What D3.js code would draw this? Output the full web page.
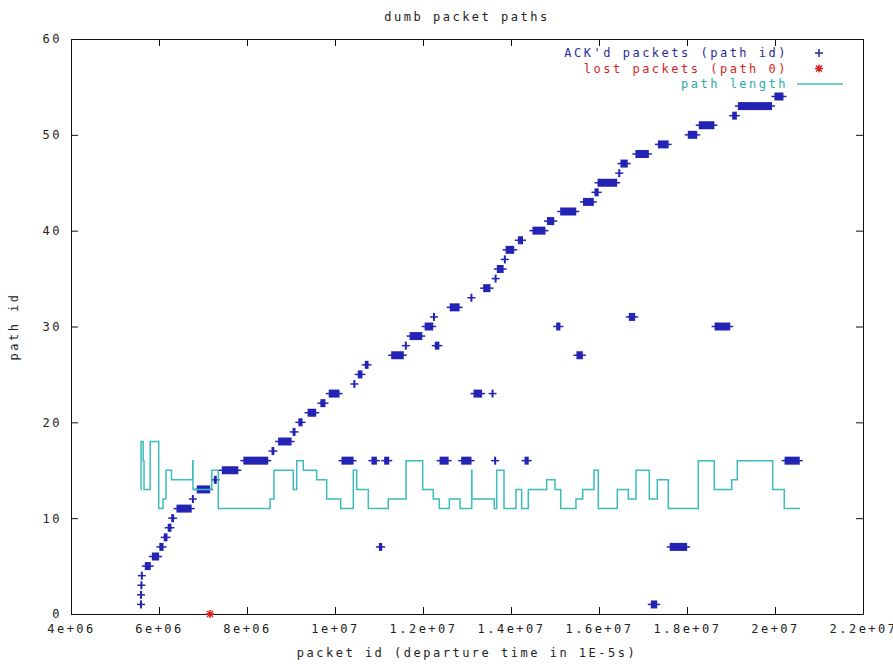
<!DOCTYPE html>
<html>
<head>
<meta charset="utf-8">
<script src="https://cdnjs.cloudflare.com/ajax/libs/d3/7.8.5/d3.min.js"></script>
<style>
  body { margin: 0; background: #fff; }
  text { font-family: "DejaVu Sans Mono", monospace; font-size: 12px; letter-spacing: 2.5px; fill: #222; }
</style>
</head>
<body>
<svg id="chart" width="893" height="666"></svg>
<script>
// tick values + labels (gnuplot style)
var xTicks = [4e6, 6e6, 8e6, 1e7, 1.2e7, 1.4e7, 1.6e7, 1.8e7, 2e7, 2.2e7];
var xTickLabels = ["4e+06", "6e+06", "8e+06", "1e+07", "1.2e+07", "1.4e+07", "1.6e+07", "1.8e+07", "2e+07", "2.2e+07"];
var yTicks = [0, 10, 20, 30, 40, 50, 60];
var yTickLabels = ["0", "10", "20", "30", "40", "50", "60"];

// ACK'd packets: runs of packets on the same path [first id, last id, path id]
var ackRuns = [
  [5.59e6, 5.59e6, 1], [5.59e6, 5.59e6, 2], [5.60e6, 5.60e6, 3], [5.61e6, 5.61e6, 4],
  [5.70e6, 5.79e6, 5], [5.86e6, 5.98e6, 6], [6.03e6, 6.08e6, 7], [6.13e6, 6.17e6, 8],
  [6.22e6, 6.26e6, 9], [6.30e6, 6.32e6, 10], [6.42e6, 6.72e6, 11], [6.77e6, 6.77e6, 12],
  [6.88e6, 7.14e6, 13], [7.27e6, 7.29e6, 14], [7.45e6, 7.78e6, 15], [7.94e6, 8.46e6, 16],
  [8.58e6, 8.60e6, 17], [8.73e6, 8.99e6, 18], [9.06e6, 9.08e6, 19], [9.19e6, 9.24e6, 20],
  [9.40e6, 9.55e6, 21], [9.69e6, 9.76e6, 22], [9.88e6, 10.08e6, 23], [10.17e6, 10.40e6, 16],
  [10.44e6, 10.44e6, 24], [10.54e6, 10.60e6, 25], [10.70e6, 10.74e6, 26], [10.85e6, 10.93e6, 16],
  [11.02e6, 11.05e6, 7], [11.14e6, 11.21e6, 16], [11.30e6, 11.54e6, 27], [11.61e6, 11.61e6, 28],
  [11.72e6, 11.96e6, 29], [12.06e6, 12.21e6, 30], [12.25e6, 12.25e6, 31], [12.29e6, 12.35e6, 28],
  [12.40e6, 12.56e6, 16], [12.63e6, 12.81e6, 32], [12.89e6, 13.08e6, 16], [13.10e6, 13.10e6, 33],
  [13.17e6, 13.32e6, 23], [13.39e6, 13.51e6, 34], [13.58e6, 13.58e6, 23], [13.64e6, 13.64e6, 16],
  [13.65e6, 13.65e6, 35], [13.70e6, 13.81e6, 36], [13.86e6, 13.86e6, 37], [13.90e6, 14.05e6, 38],
  [14.18e6, 14.25e6, 39], [14.33e6, 14.38e6, 16], [14.51e6, 14.76e6, 40], [14.84e6, 14.96e6, 41],
  [15.05e6, 15.10e6, 30], [15.14e6, 15.46e6, 42], [15.51e6, 15.61e6, 27], [15.66e6, 15.86e6, 43],
  [15.92e6, 15.97e6, 44], [15.99e6, 16.39e6, 45], [16.46e6, 16.46e6, 46], [16.51e6, 16.63e6, 47],
  [16.70e6, 16.80e6, 31], [16.85e6, 17.11e6, 48], [17.20e6, 17.30e6, 1], [17.36e6, 17.56e6, 49],
  [17.63e6, 17.98e6, 7], [18.04e6, 18.21e6, 50], [18.29e6, 18.60e6, 51], [18.65e6, 18.96e6, 30],
  [19.05e6, 19.11e6, 52], [19.18e6, 19.91e6, 53], [20.01e6, 20.17e6, 54], [20.24e6, 20.54e6, 16]
];

// lost packets (always path 0)
var lostIds = [7.16e6];
var lostPath = [0];

// path length, changes at these packet ids
var pathLenIds = [5.588e6, 5.592e6, 5.64e6, 5.66e6, 5.80e6, 5.993e6, 6.091e6, 6.159e6, 6.284e6, 6.766e6,
  6.772e6, 7.198e6, 7.348e6, 8.523e6, 8.614e6, 9.052e6, 9.130e6, 9.280e6, 9.584e6, 9.811e6,
  10.130e6, 10.416e6, 10.493e6, 10.757e6, 11.211e6, 11.614e6, 11.993e6, 12.234e6, 12.370e6, 12.598e6,
  12.841e6, 13.107e6, 13.112e6, 13.620e6, 13.675e6, 13.841e6, 14.114e6, 14.243e6, 14.393e6, 14.811e6,
  15.0e6, 15.130e6, 15.477e6, 15.630e6, 15.886e6, 15.984e6, 16.416e6, 16.666e6, 16.841e6, 17.143e6,
  17.325e6, 17.575e6, 18.257e6, 18.620e6, 19.016e6, 19.143e6, 19.948e6, 20.211e6, 20.568e6];
var pathLen = [13, 18, 16, 13, 18, 11, 12, 15, 14, 16,
  13, 15, 11, 12, 15, 13, 16, 15, 14, 12,
  11, 15, 13, 11, 12, 16, 13, 12, 11, 12,
  11, 15, 12, 11, 15, 11, 13, 11, 13, 14,
  13, 11, 12, 13, 15, 11, 13, 12, 15, 12,
  14, 11, 16, 13, 14, 16, 13, 11, 11];

var margin = {top: 39, right: 30, bottom: 52, left: 71};
var width = 893 - margin.left - margin.right,
    height = 666 - margin.top - margin.bottom;

var blue = "#2424b4",
    red = "#e02020",
    cyan = "#3cbcbc";

var xScale = d3.scaleLinear()
    .domain([4e6, 2.2e7])
    .range([0, width]);

var yScale = d3.scaleLinear()
    .domain([0, 60])
    .range([height, 0]);

var svg = d3.select('#chart');

svg.append('text')
    .attr('x', margin.left + width / 2)
    .attr('y', 21)
    .attr('text-anchor', 'middle')
    .text('dumb packet paths');

svg.append('text')
    .attr('x', margin.left + width / 2)
    .attr('y', 657)
    .attr('text-anchor', 'middle')
    .text('packet id (departure time in 1E-5s)');

svg.append('text')
    .attr('transform', 'translate(18,' + (margin.top + height / 2) + ') rotate(-90)')
    .attr('text-anchor', 'middle')
    .text('path id');

var g = svg.append('g')
    .attr('transform', 'translate(' + margin.left + ',' + margin.top + ')');

// axes, ticks pointing inward on all four sides
g.append('g')
    .attr('class', 'axis x-axis')
    .attr('transform', 'translate(0,' + height + ')')
    .call(d3.axisBottom(xScale)
      .tickValues(xTicks)
      .tickFormat(function(d, i) { return xTickLabels[i]; })
      .tickSize(-7)
      .tickSizeOuter(0)
      .tickPadding(10));

g.append('g')
    .attr('class', 'axis')
    .call(d3.axisTop(xScale)
      .tickValues(xTicks)
      .tickFormat('')
      .tickSize(-7)
      .tickSizeOuter(0));

g.append('g')
    .attr('class', 'axis y-axis')
    .call(d3.axisLeft(yScale)
      .tickValues(yTicks)
      .tickFormat(function(d, i) { return yTickLabels[i]; })
      .tickSize(-7)
      .tickSizeOuter(0)
      .tickPadding(9));

g.append('g')
    .attr('class', 'axis')
    .attr('transform', 'translate(' + width + ',0)')
    .call(d3.axisRight(yScale)
      .tickValues(yTicks)
      .tickFormat('')
      .tickSize(-7)
      .tickSizeOuter(0));

g.selectAll('.axis text')
    .attr('font-family', null)
    .attr('font-size', null)
    .attr('fill', null);
g.selectAll('.axis path, .axis line')
    .attr('stroke', '#111');

// ACK'd packets, dense runs of '+' merge into bars
var runs = g.append('g')
    .selectAll('g')
    .data(ackRuns)
    .enter().append('g');

runs.append('line')
    .attr('x1', function(d) { return xScale(d[0]) - 4; })
    .attr('x2', function(d) { return xScale(d[1]) + 4; })
    .attr('y1', function(d) { return yScale(d[2]); })
    .attr('y2', function(d) { return yScale(d[2]); })
    .attr('stroke', blue)
    .attr('stroke-width', 1.5);

runs.append('rect')
    .attr('x', function(d) { return xScale(d[0]) - 1; })
    .attr('width', function(d) { return xScale(d[1]) - xScale(d[0]) + 2; })
    .attr('y', function(d) { return yScale(d[2]) - 4; })
    .attr('height', 8)
    .attr('fill', blue);

// lost packets
g.append('g')
    .selectAll('path')
    .data(lostIds)
    .enter().append('path')
    .attr('transform', function(d, i) { return 'translate(' + xScale(d) + ',' + yScale(lostPath[i]) + ')'; })
    .attr('d', 'M-4,0H4M0,-4V4M-3,-3L3,3M-3,3L3,-3')
    .attr('stroke', red)
    .attr('stroke-width', 1.5)
    .attr('fill', 'none');

// path length as a step line
var lineGenerator = d3.line()
    .x(function(d, i) { return xScale(pathLenIds[i]); })
    .y(function(d) { return yScale(d); })
    .curve(d3.curveStepAfter);

g.append('path')
    .attr('d', lineGenerator(pathLen))
    .attr('fill', 'none')
    .attr('stroke', cyan)
    .attr('stroke-width', 1.5);

// legend
var legend = [
  {label: "ACK'd packets (path id)", color: "#2a2a9c", mark: 'M-4,0H4M0,-4V4'},
  {label: "lost packets (path 0)", color: "#d42424", mark: 'M-4,0H4M0,-4V4M-3,-3L3,3M-3,3L3,-3'},
  {label: "path length", color: "#2aaaaa", mark: null}
];

var leg = svg.append('g')
    .selectAll('g')
    .data(legend)
    .enter().append('g')
    .attr('transform', function(d, i) { return 'translate(0,' + (53 + i * 15.5) + ')'; });

leg.append('text')
    .attr('x', 788)
    .attr('y', 4)
    .attr('text-anchor', 'end')
    .style('fill', function(d) { return d.color; })
    .text(function(d) { return d.label; });

leg.filter(function(d) { return d.mark; })
  .append('path')
    .attr('transform', 'translate(819,0)')
    .attr('d', function(d) { return d.mark; })
    .attr('stroke', function(d) { return d.color; })
    .attr('stroke-width', 1.5)
    .attr('fill', 'none');

leg.filter(function(d) { return !d.mark; })
  .append('line')
    .attr('x1', 797)
    .attr('x2', 843)
    .attr('stroke', cyan)
    .attr('stroke-width', 1.5);
</script>
</body>
</html>
